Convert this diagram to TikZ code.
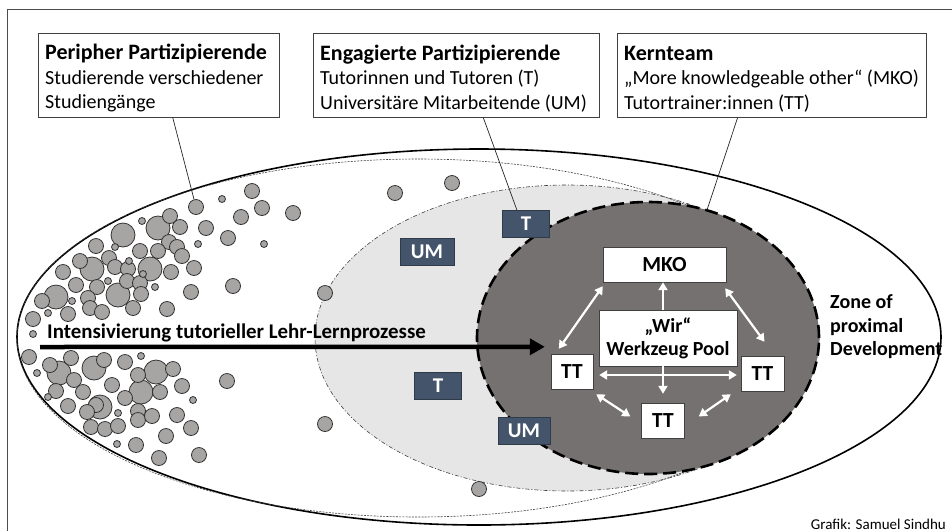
\documentclass[tikz,border=0pt]{standalone}
\usepackage{fontspec}
\setmainfont{Carlito}
\usetikzlibrary{arrows.meta}

\definecolor{corefill}{RGB}{118,113,113}
\definecolor{zonefill}{RGB}{231,230,230}
\definecolor{slate}{RGB}{68,84,106}
\definecolor{bubblefill}{RGB}{167,164,164}

\newcommand{\boxhead}[1]{\spaceskip=0pt\xspaceskip=0pt\rule{0pt}{22pt}{\fontsize{22}{24}\selectfont\bfseries #1}}

\begin{document}
\begin{tikzpicture}[x=1pt, y=-1pt,
  infobox/.style={draw=black!75, fill=white, align=left, anchor=north west, inner xsep=7pt, inner ysep=0pt, minimum height=84pt, font=\fontsize{20}{24.5}\selectfont},
  rolebox/.style={draw=slate!70!black, fill=slate, text=white, font=\fontsize{21}{24}\selectfont\bfseries, minimum height=27pt, inner sep=0pt},
  teambox/.style={draw=black!75, fill=white, font=\fontsize{21.5}{23}\selectfont\bfseries, inner sep=0pt, align=center},
  bubble/.style={draw=black!80, fill=bubblefill, line width=0.8pt},
  leader/.style={draw=black!85, line width=0.7pt},
  whitearrow/.style={white, line width=2.2pt, >={Triangle[length=8pt,width=9pt]}, <->},
  whiteone/.style={white, line width=2.2pt, -{Triangle[length=8pt,width=9pt]}},
  bigarrow/.style={line width=4.5pt, -{Triangle[length=15pt,width=16pt]}}]

  \useasboundingbox (0,0) rectangle (952,531);

  % Frame
  \draw[black!70, line width=0.8pt] (952,9) -- (7,9) -- (7,531);

  % Zones
  \draw[line width=1.6pt, fill=white] (479,337) ellipse (462pt and 188pt);
  \fill[zonefill] (567,338) ellipse (252pt and 153pt);
  \draw[black!75, line width=0.6pt, dash pattern=on 2pt off 1.2pt] (418,338) ellipse (401pt and 179pt);
  \draw[black!75, line width=0.6pt, dash pattern=on 4pt off 2pt on 1pt off 2pt] (567,338) ellipse (252pt and 153pt);

  % Students
  \foreach \p in {(158,228),(123,235),(92,269),(150,269),(56,297),(118,295),(59,373),(94,368),(156,372),(141,392),(100,407)}
    \filldraw[bubble] \p circle (12pt);
  \foreach \p in {(252,191),(262,208),(293,213),(241,217),(170,216),(180,227),(206,228),(228,238),(169,242),(177,247),
                  (96,246),(140,251),(158,251),(182,256),(109,258),(80,261),(115,267),(128,269),(194,268),(63,272),
                  (171,272),(127,281),(76,285),(97,287),(140,283),(233,286),(141,294),(191,292),(88,298),(42,301),
                  (90,308),(102,312),(133,308),(167,309),(68,314),(33,319),(29,357),(50,365),(71,358),(74,380),
                  (56,391),(83,392),(68,406),(104,360),(125,362),(112,385),(138,375),(173,369),(182,386),(160,392),
                  (125,398),(96,405),(87,412),(138,411),(138,420),(152,416),(177,415),(91,427),(105,429),(118,426),
                  (191,428),(166,436),(136,445),(159,458),(199,455),(227,381),(395,193),(452,183),(325,293),(325,424),
                  (479,489)}
    \filldraw[bubble] \p circle (7.5pt);
  \foreach \p in {(222,199),(142,221),(198,244),(264,244),(115,247),(129,261),(143,274),(108,281),(155,287),(72,301),
                  (48,313),(33,334),(37,373),(141,356),(48,397),(118,413),(193,400),(117,444)}
    \filldraw[bubble] \p circle (3.5pt);
  \node[bubble, circle, minimum size=15pt, inner sep=0pt] (stud) at (196,207) {};

  % Core team
  \draw[line width=2.6pt, fill=corefill, dash pattern=on 13pt off 6pt] (648,338) ellipse (171pt and 136pt);
  \coordinate (coreRim) at (707,210);

  % Main arrow
  \node[font=\fontsize{20.9}{24}\selectfont\bfseries, anchor=base west, inner sep=0pt] (lehr) at (47,338) {Intensivierung tutorieller Lehr-Lernprozesse};
  \coordinate (arrStart) at (40,347);

  % Tutors and staff
  \node[rolebox, minimum width=47pt] (t1) at (526,224) {T};
  \node[rolebox, minimum width=54pt] (um1) at (427,252) {UM};
  \node[rolebox, minimum width=47pt] (t2) at (438,386) {T};
  \node[rolebox, minimum width=52pt] (um2) at (524,431) {UM};

  % Team
  \node[teambox, minimum width=123pt, minimum height=35pt] (mko) at (664.5,264.5) {MKO};
  \node[teambox, minimum width=138pt, minimum height=56pt, font=\fontsize{20}{23}\selectfont\bfseries] (wir) at (668,338) {„Wir“\\Werkzeug Pool};
  \node[teambox, minimum width=42pt, minimum height=35pt] (ttl) at (572,371.5) {TT};
  \node[teambox, minimum width=43pt, minimum height=35pt] (ttr) at (762.5,373.5) {TT};
  \node[teambox, minimum width=43pt, minimum height=35pt] (ttb) at (663,420.5) {TT};

  \draw[bigarrow] (arrStart) -- ([xshift=-6pt,yshift=7pt]ttl.north west);

  \draw[whitearrow] ([shift={(8,-5)}]ttl.north west) -- ([shift={(0,4)}]mko.south west);
  \draw[whiteone] ([xshift=-5pt]wir.north) -- ([xshift=-1.5pt]mko.south);
  \draw[whitearrow] ([shift={(-1,6)}]mko.south east) -- ([shift={(2,-14)}]ttr.north);
  \draw[whitearrow] ([shift={(6,3.5)}]ttl.east) -- ([shift={(-4,1.5)}]ttr.west);
  \draw[whiteone] ([xshift=-5pt]wir.south) -- ([yshift=9pt]ttb.north);
  \draw[whitearrow] ([shift={(3,5)}]ttl.south east) -- ([shift={(-11,-4)}]ttb.west);
  \draw[whitearrow] ([shift={(14,-4)}]ttb.east) -- ([shift={(-10,3)}]ttr.south west);

  % Legend boxes
  \node[infobox, text width=227pt] (peri) at (38,33) {\boxhead{Peripher Partizipierende}\\Studierende verschiedener\\Studiengänge};
  \node[infobox, text width=272pt] (eng) at (313,33) {\boxhead{Engagierte Partizipierende}\\Tutorinnen und Tutoren (T)\\Universitäre Mitarbeitende (UM)};
  \node[infobox, text width=295pt] (kern) at (617,33) {\boxhead{Kernteam}\\„More knowledgeable other“ (MKO)\\Tutortrainer:innen (TT)};

  \draw[leader] ([xshift=14pt]peri.south) -- (stud);
  \draw[leader] ([xshift=27pt]eng.south) -- ([xshift=-9pt]t1.north);
  \draw[leader] ([xshift=-34pt]kern.south) -- (coreRim);

  % Labels
  \node[anchor=west, align=left, inner sep=0pt, font=\fontsize{20}{23.5}\selectfont\bfseries] (zpd) at (830,327) {Zone of\\proximal\\Development};
  \node[anchor=base east, inner sep=0pt, font=\fontsize{15}{18}\selectfont] (credit) at (946,529) {Grafik: Samuel Sindhu};
\end{tikzpicture}
\end{document}
